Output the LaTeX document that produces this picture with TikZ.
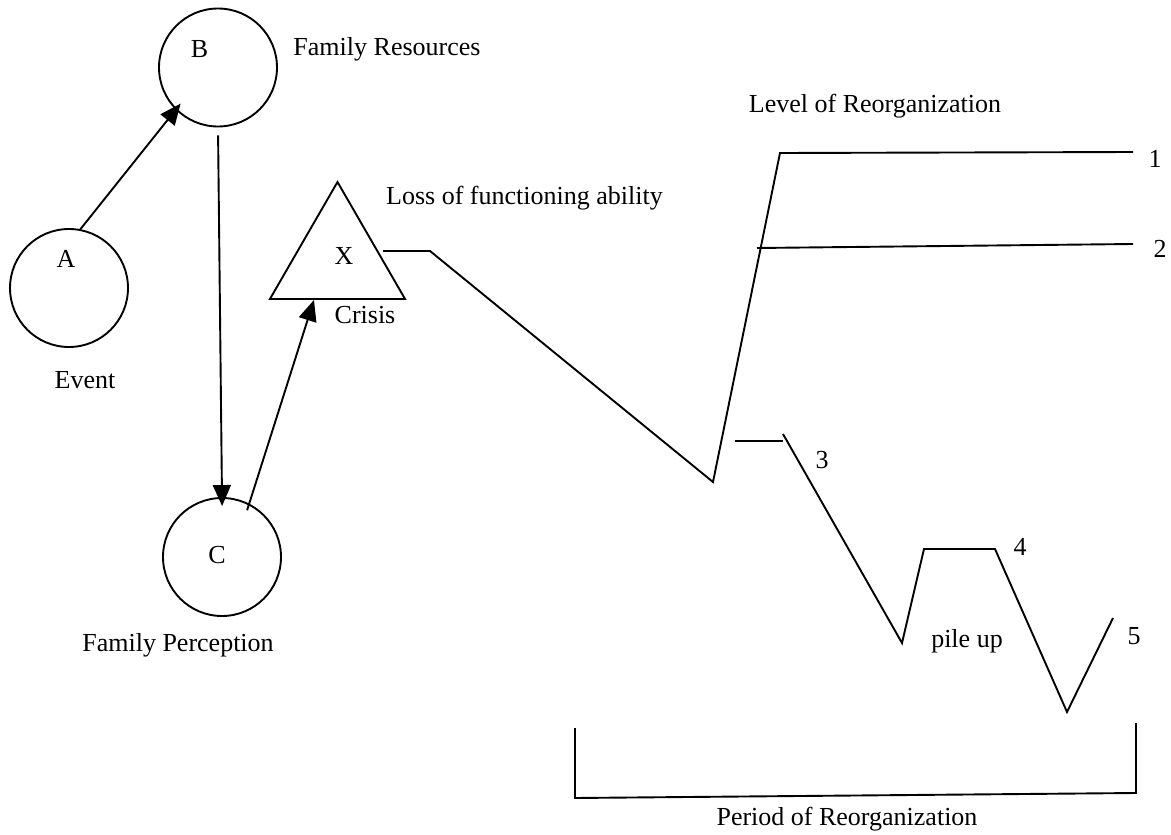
\documentclass[tikz,border=0pt]{standalone}
\usepackage{fontspec}
\setmainfont{Liberation Serif}
\usetikzlibrary{arrows.meta,shapes.geometric,calc}
\begin{document}
\begin{tikzpicture}[x=1pt,y=-1pt,
  every node/.style={font=\fontsize{26}{30}\selectfont},
  ln/.style={line width=1.9pt},
  ring/.style={circle,draw,line width=1.9pt,minimum size=118pt,inner sep=0pt},
  tri/.style={regular polygon,regular polygon sides=3,draw,line width=1.9pt,minimum size=156pt,inner sep=0pt},
  arr/.style={ln,-{Triangle[length=21pt,width=18pt]}},
  lbl/.style={anchor=base,inner sep=0pt}]
\useasboundingbox (0,0) rectangle (1171,835);
% shapes
\node[ring] (A) at (69,288) {};
\node[ring] (B) at (218,67.5) {};
\node[ring] (C) at (222,557) {};
\node[tri] (T) at (337.5,260) {};
% labels
\node[lbl] (la) at (66,267) {A};
\node[lbl] (lb) at (199.5,57) {B};
\node[lbl] (lc) at (217,563) {C};
\node[lbl] (lx) at (344,264) {X};
\node[lbl] (lfr) at (387,56) {Family Resources};
\node[lbl] (lev) at (85,388) {Event};
\node[lbl] (lfp) at (178,651) {Family Perception};
\node[lbl] (lcr) at (365,323) {Crisis};
\node[lbl] (llf) at (524.5,204) {Loss of functioning ability};
\node[lbl] (llr) at (875,112) {Level of Reorganization};
\node[lbl] (n1) at (1155,167) {1};
\node[lbl] (n2) at (1160,257) {2};
\node[lbl] (n3) at (822,468) {3};
\node[lbl] (n4) at (1020,555) {4};
\node[lbl] (n5) at (1134,644) {5};
\node[lbl] (lpu) at (967,647) {pile up};
\node[lbl] (lpr) at (847,825) {Period of Reorganization};
% arrows
\draw[arr, shorten >=-8pt] (A.79) -- (B.225);
\draw[arr, shorten <=8pt, shorten >=-9pt] (B.south) -- (C.north);
\draw[arr, shorten <=-7pt] (C.63) -- ($(T.corner 2)!0.33!(T.corner 3)$);
% reorganization curve
\coordinate (p0) at (383,251);
\coordinate (p1) at (430,251);
\coordinate (p2) at (713,482);
\coordinate (p3) at (780,153);
\coordinate (p4) at (1133,152);
\draw[ln] (p0) -- (p1) -- (p2) -- (p3) -- (p4);
\coordinate (q0) at (757,248);
\coordinate (q1) at (1133,244);
\draw[ln] (q0) -- (q1);
\coordinate (r0) at (735,441);
\coordinate (r1) at (783,441);
\draw[ln] (r0) -- (r1);
\coordinate (s0) at (783,434);
\coordinate (s1) at (902,643);
\coordinate (s2) at (924,549);
\coordinate (s3) at (995,549);
\coordinate (s4) at (1067,712);
\coordinate (s5) at (1113,618);
\draw[ln] (s0) -- (s1) -- (s2) -- (s3) -- (s4) -- (s5);
% bracket
\coordinate (b0) at (575,728);
\coordinate (b1) at (575,798);
\coordinate (b2) at (1136,793);
\coordinate (b3) at (1136,723);
\draw[ln] (b0) -- (b1) -- (b2) -- (b3);
\end{tikzpicture}
\end{document}
